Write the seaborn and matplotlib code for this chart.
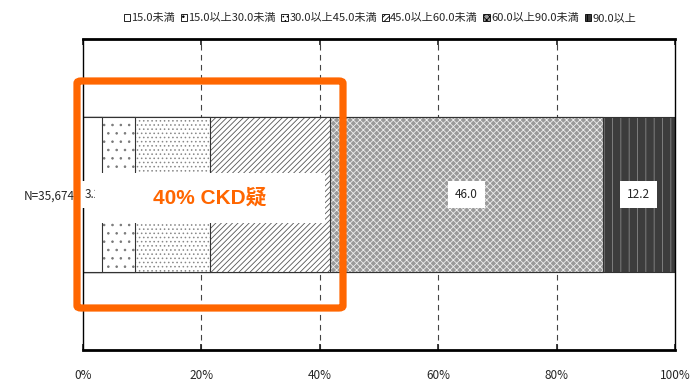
import matplotlib
matplotlib.use("Agg")
import matplotlib.pyplot as plt
import seaborn as sns
import pandas as pd
from matplotlib.patches import FancyBboxPatch, Rectangle, Patch

# data
categories = ["15.0未満", "15.0以上30.0未満", "30.0以上45.0未満",
              "45.0以上60.0未満", "60.0以上90.0未満", "90.0以上"]
shares = [3.2, 5.5, 12.8, 20.3, 46.0, 12.2]
group_label = "N=35,674"
# labels 5.5 / 12.8 / 20.3 sit under the white annotation box in the reference
show_label = [True, False, False, False, True, True]

face_colors = ["white", "white", "white", "white", "#9a9a9a", "#3c3c3c"]
hatches = [None, "..", "....", "//////", "xxxxx", "||"]
hatch_colors = ["black", "#777777", "#888888", "#555555", "#eeeeee", "#888888"]

sns.set_theme(style="white")
plt.rcParams['font.family'] = ['Noto Sans CJK JP', 'DejaVu Sans']
plt.rcParams['hatch.linewidth'] = 0.6

cum = pd.Series(shares).cumsum()
df = pd.DataFrame({"cat": categories, "share": shares, "cum": cum,
                   "group": group_label})

fig = plt.figure(figsize=(6.97, 3.85), dpi=100)
ax = fig.add_axes([83 / 697, 1 - 350 / 385, 592 / 697, 311 / 385])

# stacked horizontal bar: draw cumulative totals from largest to smallest
for i in reversed(range(len(categories))):
    sub = df.iloc[[i]]
    sns.barplot(data=sub, x="cum", y="group", ax=ax, width=1.0,
                color=face_colors[i], edgecolor="#333333", linewidth=0.8,
                orient="h")
    p = ax.patches[-1]
    p.set_facecolor(face_colors[i])
    if hatches[i]:
        p.set_hatch(hatches[i])
        p._hatch_color = matplotlib.colors.to_rgba(hatch_colors[i])

ax.set_xlim(0, 100)
ax.set_ylim(1, -1)
ax.set_xticks([0, 20, 40, 60, 80, 100])
ax.set_xticklabels([f"{t}%" for t in [0, 20, 40, 60, 80, 100]], fontsize=8.5)
ax.tick_params(axis="x", direction="in", length=4, pad=14, top=True, bottom=True)
ax.tick_params(axis="y", length=0, labelsize=8.5, pad=6)
ax.set_xlabel("")
ax.set_ylabel("")
for xv in [20, 40, 60, 80]:
    ax.axvline(xv, color="#444444", lw=0.8, ls=(0, (5, 4)), zorder=0)
for s in ax.spines.values():
    s.set_color("black")
    s.set_linewidth(1.0)
ax.spines["top"].set_linewidth(2.0)
ax.spines["bottom"].set_linewidth(2.0)

# value labels in white boxes
for i, v in enumerate(shares):
    if not show_label[i]:
        continue
    xc = cum[i] - v / 2
    ax.text(xc, 0, f"{v:.1f}", ha="center", va="center", fontsize=8.5,
            bbox=dict(facecolor="white", edgecolor="none", pad=5), zorder=5)

# legend on top
handles = [Patch(facecolor=face_colors[i], edgecolor="black", hatch=hatches[i],
                 linewidth=0.6) for i in range(len(categories))]
fig.legend(handles, categories, loc="center", bbox_to_anchor=(0.545, 1 - 18 / 385),
           ncol=6, frameon=False, fontsize=8, handlelength=0.6, handleheight=0.6,
           handletextpad=0.1, columnspacing=0.5, borderaxespad=0)

# white overlay box with orange annotation
fig.add_artist(Rectangle((95 / 697, 1 - 223 / 385), 230 / 697, 50 / 385,
                         transform=fig.transFigure, facecolor="white",
                         edgecolor="none", zorder=10))
fig.text(210 / 697, 1 - 198 / 385, "40% CKD疑", ha="center", va="center",
         color="#ff6600", fontsize=15, fontweight="bold", zorder=11,
         family=['Liberation Sans', 'Noto Sans CJK JP'])

# orange highlight frame
fig.add_artist(FancyBboxPatch((77 / 697, 1 - 308 / 385), 266 / 697, 227 / 385,
                              boxstyle="round,pad=0,rounding_size=0.006",
                              transform=fig.transFigure, facecolor="none",
                              edgecolor="#ff6600", linewidth=5.2, zorder=12))

fig.savefig("out.png", dpi=100)
